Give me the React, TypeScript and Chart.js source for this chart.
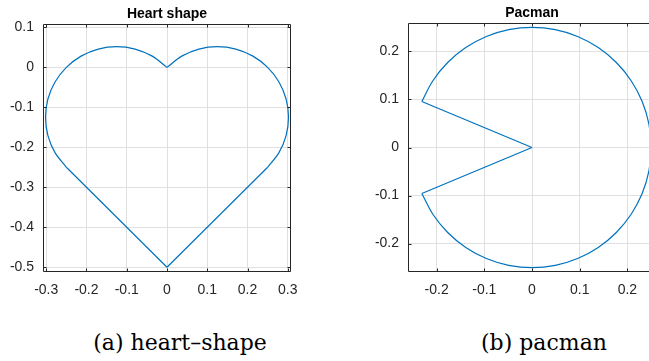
import React, { useEffect, useRef } from "react";
import { Chart, registerables } from "chart.js";
Chart.register(...registerables);

// Heart shape outline
const heartX = [
  0, -0.25, -0.2781, -0.2958, -0.3018, -0.2958, -0.2781, -0.25, -0.2134, -0.1708, -0.125, -0.0792, -0.0366, 0,
  0.0366, 0.0792, 0.125, 0.1708, 0.2134, 0.25, 0.2781, 0.2958, 0.3018, 0.2958, 0.2781, 0.25, 0,
];
const heartY = [
  -0.5, -0.25, -0.2134, -0.1708, -0.125, -0.0792, -0.0366, 0, 0.0281, 0.0458, 0.0518, 0.0458, 0.0281, 0,
  0.0281, 0.0458, 0.0518, 0.0458, 0.0281, 0, -0.0366, -0.0792, -0.125, -0.1708, -0.2134, -0.25, -0.5,
];
// [start, end, curved] index ranges of the heart outline pieces
const heartPieces: [number, number, boolean][] = [
  [0, 1, false],
  [1, 13, true],
  [13, 25, true],
  [25, 26, false],
];

// Pacman outline
const pacmanX = [
  0, -0.231, -0.2079, -0.1768, -0.1389, -0.0957, -0.0488, 0, 0.0488, 0.0957, 0.1389, 0.1768, 0.2079, 0.231, 0.2452,
  0.25, 0.2452, 0.231, 0.2079, 0.1768, 0.1389, 0.0957, 0.0488, 0, -0.0488, -0.0957, -0.1389, -0.1768, -0.2079, -0.231, 0,
];
const pacmanY = [
  0, 0.0957, 0.1389, 0.1768, 0.2079, 0.231, 0.2452, 0.25, 0.2452, 0.231, 0.2079, 0.1768, 0.1389, 0.0957, 0.0488,
  0, -0.0488, -0.0957, -0.1389, -0.1768, -0.2079, -0.231, -0.2452, -0.25, -0.2452, -0.231, -0.2079, -0.1768, -0.1389, -0.0957, 0,
];
const pacmanPieces: [number, number, boolean][] = [
  [0, 1, false],
  [1, 29, true],
  [29, 30, false],
];

const heartXTicks = [-0.3, -0.2, -0.1, 0, 0.1, 0.2, 0.3];
const heartYTicks = [-0.5, -0.4, -0.3, -0.2, -0.1, 0, 0.1];
const pacmanXTicks = [-0.2, -0.1, 0, 0.1, 0.2];
const pacmanYTicks = [-0.2, -0.1, 0, 0.1, 0.2];

const titles = ["Heart shape", "Pacman"];
const captions = ["(a) heart\u2013shape", "(b) pacman"];

const LINE = "#0072BD";
const AXIS = "#262626";
const GRID = "#e0e0e0";
const SANS = '"Liberation Sans", Arial, sans-serif';

type PlotProps = {
  xs: number[];
  ys: number[];
  pieces: [number, number, boolean][];
  xTicks: number[];
  yTicks: number[];
  xMin: number;
  xMax: number;
  yMin: number;
  yMax: number;
  title: string;
  left: number;
  width: number;
  height: number;
  yAxisWidth: number;
  padTop: number;
  padRight: number;
  areaBottom: number;
};

function Plot(p: PlotProps) {
  const ref = useRef<HTMLCanvasElement>(null);
  useEffect(() => {
    const canvas = ref.current;
    if (!canvas) return;
    const pts = p.xs.map((x, i) => ({ x, y: p.ys[i] }));
    const datasets = p.pieces.map(([s, e, curved]) => ({
      data: pts.slice(s, e + 1),
      showLine: true,
      borderColor: LINE,
      backgroundColor: LINE,
      borderWidth: 1.2,
      pointRadius: 0,
      fill: false,
      tension: curved ? 0.34 : 0,
    }));
    const frame = {
      id: "frame",
      afterDraw(chart: any) {
        const { ctx, chartArea } = chart;
        const l = Math.round(chartArea.left) + 0.5;
        const t = Math.round(chartArea.top) + 0.5;
        const r = Math.round(chartArea.right) - 0.5;
        const b = Math.round(chartArea.bottom) - 0.5;
        ctx.save();
        ctx.strokeStyle = AXIS;
        ctx.lineWidth = 1;
        ctx.beginPath();
        ctx.rect(l, t, r - l, b - t);
        ctx.stroke();
        const tl = 3;
        ctx.beginPath();
        p.xTicks.forEach((v) => {
          const px = Math.round(chart.scales.x.getPixelForValue(v)) + 0.5;
          ctx.moveTo(px, b);
          ctx.lineTo(px, b - tl);
          ctx.moveTo(px, t);
          ctx.lineTo(px, t + tl);
        });
        p.yTicks.forEach((v) => {
          const py = Math.round(chart.scales.y.getPixelForValue(v)) + 0.5;
          ctx.moveTo(l, py);
          ctx.lineTo(l + tl, py);
          ctx.moveTo(r, py);
          ctx.lineTo(r - tl, py);
        });
        ctx.stroke();
        ctx.fillStyle = "#000";
        ctx.font = `bold 14px ${SANS}`;
        ctx.textAlign = "center";
        ctx.textBaseline = "alphabetic";
        ctx.fillText(p.title, (chartArea.left + chartArea.right) / 2, chartArea.top - 6);
        ctx.restore();
      },
    };
    const tickFont = { family: SANS, size: 14 };
    const chart = new Chart(canvas, {
      type: "scatter",
      data: { datasets },
      options: {
        responsive: false,
        animation: false,
        devicePixelRatio: 1,
        layout: { padding: { top: p.padTop, right: p.padRight, left: 0, bottom: 0 } },
        plugins: {
          legend: { display: false },
          tooltip: { enabled: false },
          title: { display: false },
        },
        scales: {
          x: {
            type: "linear",
            min: p.xMin,
            max: p.xMax,
            afterBuildTicks: (s: any) => {
              s.ticks = p.xTicks.map((v) => ({ value: v }));
            },
            afterFit: (s: any) => {
              s.height = p.height - p.areaBottom;
            },
            grid: { color: GRID, drawTicks: false },
            border: { display: false },
            ticks: {
              autoSkip: false,
              maxRotation: 0,
              padding: 10,
              color: AXIS,
              font: tickFont,
              callback: (v: any) => String(v),
            },
          },
          y: {
            type: "linear",
            min: p.yMin,
            max: p.yMax,
            afterBuildTicks: (s: any) => {
              s.ticks = p.yTicks.map((v) => ({ value: v }));
            },
            afterFit: (s: any) => {
              s.width = p.yAxisWidth;
            },
            grid: { color: GRID, drawTicks: false },
            border: { display: false },
            ticks: {
              autoSkip: false,
              padding: 9,
              color: AXIS,
              font: tickFont,
              callback: (v: any) => String(v),
            },
          },
        },
      } as any,
      plugins: [frame],
    });
    return () => chart.destroy();
  }, []);
  return (
    <canvas
      ref={ref}
      width={p.width}
      height={p.height}
      style={{ position: "absolute", left: p.left, top: 0, width: p.width, height: p.height }}
    />
  );
}

export default function App() {
  const capStyle: React.CSSProperties = {
    position: "absolute",
    top: 331,
    width: 260,
    textAlign: "center",
    fontFamily: '"DejaVu Serif", serif',
    fontSize: 22,
    lineHeight: "24px",
    color: "#000",
    whiteSpace: "nowrap",
  };
  return (
    <div
      style={{
        position: "fixed",
        left: 0,
        top: 0,
        width: 649,
        height: 361,
        overflow: "hidden",
        background: "#fff",
      }}
    >
      <Plot
        xs={heartX}
        ys={heartY}
        pieces={heartPieces}
        xTicks={heartXTicks}
        yTicks={heartYTicks}
        xMin={-0.308}
        xMax={0.308}
        yMin={-0.512}
        yMax={0.1085}
        title={titles[0]}
        left={0}
        width={320}
        height={300}
        yAxisWidth={43}
        padTop={24}
        padRight={29}
        areaBottom={272}
      />
      <Plot
        xs={pacmanX}
        ys={pacmanY}
        pieces={pacmanPieces}
        xTicks={pacmanXTicks}
        yTicks={pacmanYTicks}
        xMin={-0.26}
        xMax={0.26}
        yMin={-0.259}
        yMax={0.259}
        title={titles[1]}
        left={340}
        width={320}
        height={300}
        yAxisWidth={68}
        padTop={23}
        padRight={4}
        areaBottom={272}
      />
      <div style={{ ...capStyle, left: 180 - 130 }}>{captions[0]}</div>
      <div style={{ ...capStyle, left: 544 - 130 }}>{captions[1]}</div>
    </div>
  );
}
